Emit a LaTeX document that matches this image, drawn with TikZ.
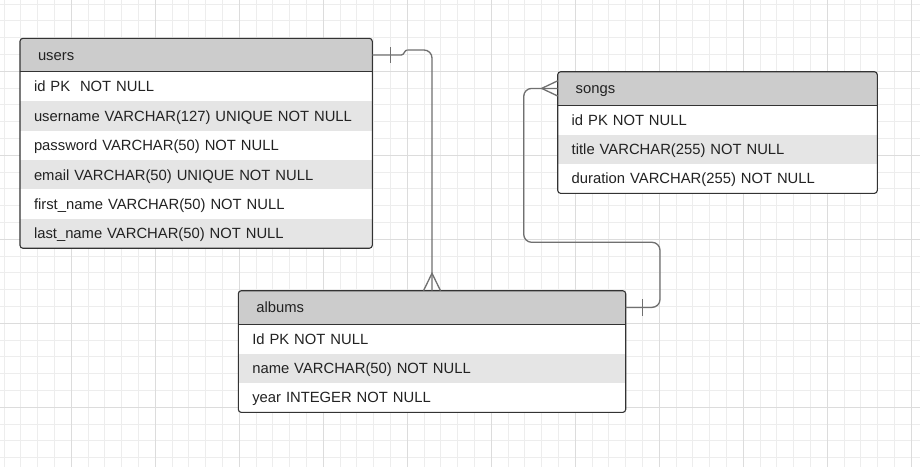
\documentclass[tikz,border=0pt]{standalone}
\usepackage{fontspec}
\setmainfont{Liberation Sans}
\usetikzlibrary{positioning,calc}
\pgfdeclarelayer{gridlayer}
\pgfdeclarelayer{filllayer}
\pgfsetlayers{gridlayer,filllayer,main}
\definecolor{gridminor}{HTML}{EDEDED}
\definecolor{gridmajor}{HTML}{DCDCDC}
\definecolor{hdrgray}{HTML}{CCCCCC}
\definecolor{rowgray}{HTML}{E5E5E5}
\definecolor{framecol}{HTML}{333333}
\definecolor{conncol}{HTML}{707070}
\definecolor{txtcol}{HTML}{222222}
\tikzset{
  cell/.style={rectangle, outer sep=0pt, inner ysep=0pt, align=left,
    text height=10.6pt, text depth=0pt,
    font=\fontsize{14.8}{17}\selectfont, text=txtcol, anchor=north},
  hdrcell/.style={cell, inner xsep=18pt, minimum height=33.4pt},
  fieldcell/.style={cell, inner xsep=14pt, minimum height=29.43pt},
  frame/.style={draw=framecol, line width=1.1pt, rounded corners=3pt},
  sepline/.style={draw=framecol, line width=1.1pt},
  conn/.style={draw=conncol, line width=1.3pt},
  gminor/.style={draw=gridminor, line width=1pt},
  gmajor/.style={draw=gridmajor, line width=1pt},
}
\begin{document}
\begin{tikzpicture}[x=1pt,y=-1pt]
\useasboundingbox (0,0) rectangle (920,467);
\begin{pgfonlayer}{gridlayer}
  \fill[white] (0,0) rectangle (920,467);
  \foreach \i in {0,...,54} \draw[gminor] ({4.1+16.8*\i},0) -- ({4.1+16.8*\i},467);
  \foreach \i in {0,...,27} \draw[gminor] (0,{4.1+16.8*\i}) -- (920,{4.1+16.8*\i});
  \foreach \i in {0,...,10} \draw[gmajor] ({71.3+84*\i},0) -- ({71.3+84*\i},467);
  \foreach \i in {0,...,4} \draw[gmajor] (0,{71.3+84*\i}) -- (920,{71.3+84*\i});
\end{pgfonlayer}

% users table
\node[hdrcell, text width=316.3pt, anchor=north west] (users) at (20,38.3) {users};
\node[fieldcell, text width=324.3pt, below=0pt of users] (users-1) {id PK~ NOT NULL};
\node[fieldcell, text width=324.3pt, below=0pt of users-1] (users-2) {username VARCHAR(127) UNIQUE NOT NULL};
\node[fieldcell, text width=324.3pt, below=0pt of users-2] (users-3) {password VARCHAR(50) NOT NULL};
\node[fieldcell, text width=324.3pt, below=0pt of users-3] (users-4) {email VARCHAR(50) UNIQUE NOT NULL};
\node[fieldcell, text width=324.3pt, below=0pt of users-4] (users-5) {first\_name VARCHAR(50) NOT NULL};
\node[fieldcell, text width=324.3pt, below=0pt of users-5] (users-6) {last\_name VARCHAR(50) NOT NULL};

% songs table
\node[hdrcell, text width=283.6pt, anchor=north west] (songs) at (557.7,71.7) {songs};
\node[fieldcell, text width=291.6pt, below=0pt of songs] (songs-1) {id PK NOT NULL};
\node[fieldcell, text width=291.6pt, below=0pt of songs-1] (songs-2) {title VARCHAR(255) NOT NULL};
\node[fieldcell, text width=291.6pt, below=0pt of songs-2] (songs-3) {duration VARCHAR(255) NOT NULL};

% albums table
\node[hdrcell, text width=351.4pt, anchor=north west] (albums) at (238.3,290.7) {albums};
\node[fieldcell, text width=359.4pt, below=0pt of albums] (albums-1) {Id PK NOT NULL};
\node[fieldcell, text width=359.4pt, below=0pt of albums-1] (albums-2) {name VARCHAR(50) NOT NULL};
\node[fieldcell, text width=359.4pt, below=0pt of albums-2] (albums-3) {year INTEGER NOT NULL};

\begin{pgfonlayer}{filllayer}
  \begin{scope}
    \clip[rounded corners=3pt] (users.north west) rectangle (users-6.south east);
    \fill[white] (users.north west) rectangle (users-6.south east);
    \fill[hdrgray] (users.north west) rectangle (users.south east);
    \fill[rowgray] (users-2.north west) rectangle (users-2.south east);
    \fill[rowgray] (users-4.north west) rectangle (users-4.south east);
    \fill[rowgray] (users-6.north west) rectangle (users-6.south east);
  \end{scope}
  \begin{scope}
    \clip[rounded corners=3pt] (songs.north west) rectangle (songs-3.south east);
    \fill[white] (songs.north west) rectangle (songs-3.south east);
    \fill[hdrgray] (songs.north west) rectangle (songs.south east);
    \fill[rowgray] (songs-2.north west) rectangle (songs-2.south east);
  \end{scope}
  \begin{scope}
    \clip[rounded corners=3pt] (albums.north west) rectangle (albums-3.south east);
    \fill[white] (albums.north west) rectangle (albums-3.south east);
    \fill[hdrgray] (albums.north west) rectangle (albums.south east);
    \fill[rowgray] (albums-2.north west) rectangle (albums-2.south east);
  \end{scope}
\end{pgfonlayer}

\draw[frame] (users.north west) rectangle (users-6.south east);
\draw[sepline] (users.south west) -- (users.south east);
\draw[frame] (songs.north west) rectangle (songs-3.south east);
\draw[sepline] (songs.south west) -- (songs.south east);
\draw[frame] (albums.north west) rectangle (albums-3.south east);
\draw[sepline] (albums.south west) -- (albums.south east);

% users -> albums
\coordinate (j1) at ($(users.east)+(29,0)$);
\coordinate (j2) at ($(users.east)+(35,-5)$);
\draw[conn] (users.east) -- (j1) .. controls ($(j1)+(3,0)$) and ($(j2)+(-3,0)$) .. (j2);
\draw[conn, rounded corners=8pt] (j2) -- (j2 -| albums.north) -- (albums.north);
\draw[conn] ($(users.east)+(18,-8)$) -- ($(users.east)+(18,8)$);
\draw[conn] ($(albums.north)+(-8.5,0)$) -- ($(albums.north)+(0,-17.4)$) -- ($(albums.north)+(8.5,0)$);

% songs -> albums
\coordinate (k1) at (523.7,242.3);
\coordinate (k2) at (660,242.3);
\draw[conn, rounded corners=8pt] (songs.west) -| (k1) -- (k2) |- (albums.east);
\draw[conn] ($(songs.west)+(0,-7.6)$) -- ($(songs.west)+(-16,0)$) -- ($(songs.west)+(0,7.6)$);
\draw[conn] ($(albums.east)+(17,-8.3)$) -- ($(albums.east)+(17,8.3)$);
\end{tikzpicture}
\end{document}
